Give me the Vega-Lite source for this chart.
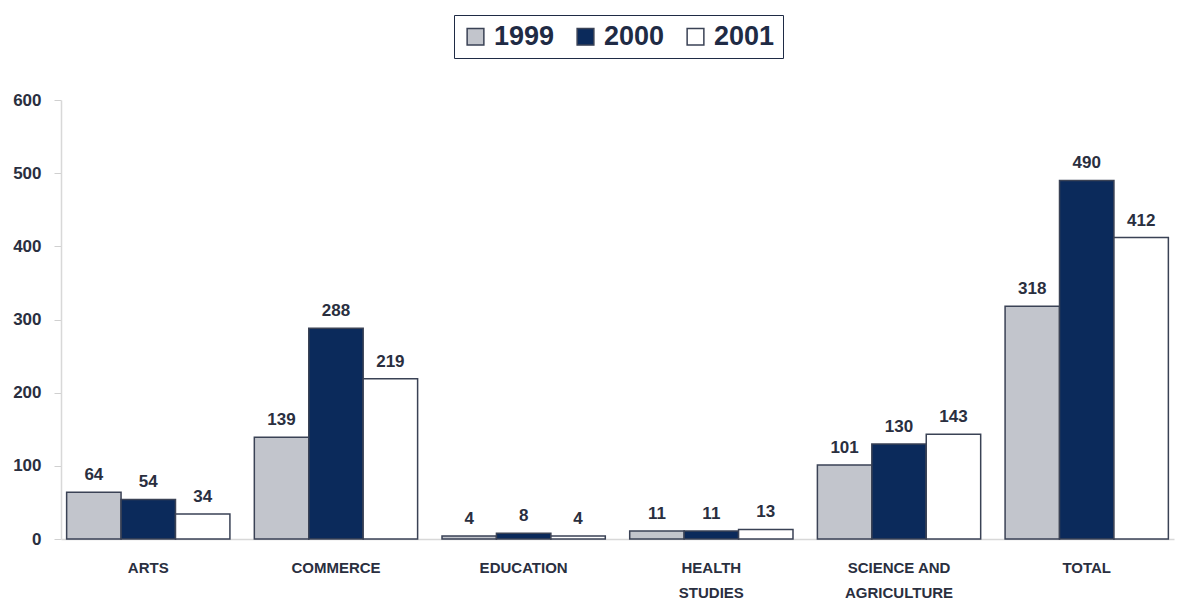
{
  "$schema": "https://vega.github.io/schema/vega-lite/v6.json",
  "width": 1184,
  "height": 605,
  "autosize": {"type": "fit", "contains": "padding"},
  "padding": {"left": 12, "top": 91, "right": 10, "bottom": 5},
  "background": "white",
  "config": {
    "view": {"stroke": null},
    "font": "Liberation Sans"
  },
  "data": {
    "values": [
      {"category": "ARTS", "year": "1999", "value": 64},
      {"category": "ARTS", "year": "2000", "value": 54},
      {"category": "ARTS", "year": "2001", "value": 34},
      {"category": "COMMERCE", "year": "1999", "value": 139},
      {"category": "COMMERCE", "year": "2000", "value": 288},
      {"category": "COMMERCE", "year": "2001", "value": 219},
      {"category": "EDUCATION", "year": "1999", "value": 4},
      {"category": "EDUCATION", "year": "2000", "value": 8},
      {"category": "EDUCATION", "year": "2001", "value": 4},
      {"category": "HEALTH|STUDIES", "year": "1999", "value": 11},
      {"category": "HEALTH|STUDIES", "year": "2000", "value": 11},
      {"category": "HEALTH|STUDIES", "year": "2001", "value": 13},
      {"category": "SCIENCE AND|AGRICULTURE", "year": "1999", "value": 101},
      {"category": "SCIENCE AND|AGRICULTURE", "year": "2000", "value": 130},
      {"category": "SCIENCE AND|AGRICULTURE", "year": "2001", "value": 143},
      {"category": "TOTAL", "year": "1999", "value": 318},
      {"category": "TOTAL", "year": "2000", "value": 490},
      {"category": "TOTAL", "year": "2001", "value": 412}
    ]
  },
  "encoding": {
    "x": {
      "field": "category",
      "type": "nominal",
      "sort": null,
      "scale": {"paddingInner": 0.13, "paddingOuter": 0.03},
      "axis": {
        "title": null,
        "labelAngle": 0,
        "labelExpr": "split(datum.label, '|')",
        "labelFontSize": 15,
        "labelFontWeight": "bold",
        "labelColor": "#2a2f3f",
        "labelPadding": 21,
        "labelLineHeight": 25,
        "ticks": false,
        "domainColor": "#d8d8d8",
        "domainWidth": 1.5
      }
    },
    "xOffset": {"field": "year", "type": "nominal", "scale": {"paddingInner": 0}},
    "y": {
      "field": "value",
      "type": "quantitative",
      "scale": {"domain": [0, 600]},
      "axis": {
        "title": null,
        "values": [0, 100, 200, 300, 400, 500, 600],
        "grid": false,
        "labelFontSize": 17,
        "labelFontWeight": "bold",
        "labelColor": "#2a2f3f",
        "labelPadding": 13,
        "tickColor": "#d0d0d0",
        "tickSize": 7,
        "domainColor": "#d8d8d8",
        "domainWidth": 1.5
      }
    }
  },
  "layer": [
    {
      "mark": {"type": "bar", "stroke": "#3a4255", "strokeWidth": 1.5},
      "encoding": {
        "fill": {
          "field": "year",
          "type": "nominal",
          "scale": {"domain": ["1999", "2000", "2001"], "range": ["#c2c5cc", "#0b2a5b", "#ffffff"]},
          "legend": {
            "title": null,
            "orient": "none",
            "legendX": 393,
            "legendY": -85,
            "direction": "horizontal",
            "symbolType": "square",
            "symbolSize": 280,
            "symbolStrokeColor": "#3a4255",
            "symbolStrokeWidth": 1.5,
            "labelFontSize": 27,
            "labelFontWeight": "bold",
            "labelColor": "#1f2b45",
            "labelOffset": 5,
            "columnPadding": 17,
            "strokeColor": "#1f2b45",
            "padding": 8
          }
        }
      }
    },
    {
      "mark": {"type": "text", "baseline": "bottom", "dy": -8, "fontSize": 17, "fontWeight": "bold", "color": "#2a2f3f"},
      "encoding": {"text": {"field": "value", "type": "quantitative"}}
    }
  ]
}
